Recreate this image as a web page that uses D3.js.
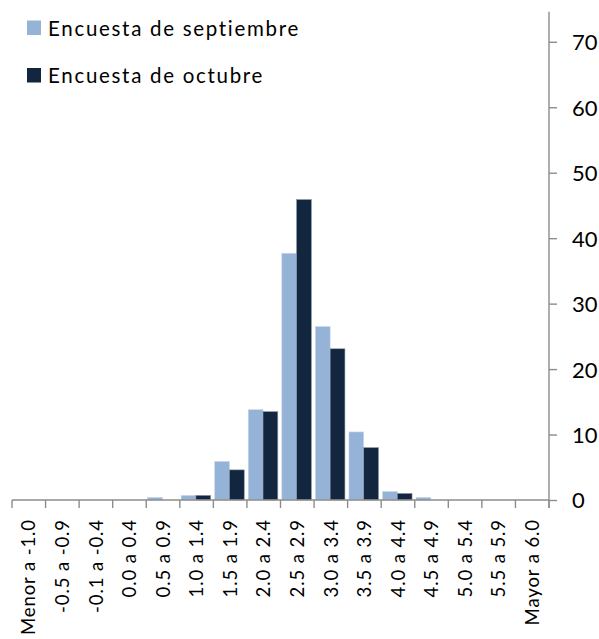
<!DOCTYPE html>
<html>
<head>
<meta charset="utf-8">
<script src="https://cdn.jsdelivr.net/npm/d3@7"></script>
<style>
  html, body { margin: 0; padding: 0; background: #fff; }
  svg { display: block; }
  text { font-family: Lato, "Open Sans", sans-serif; fill: #000; }
</style>
</head>
<body>
<svg id="chart" width="599" height="639"></svg>
<script>
const categories = ["Menor a -1.0", "-0.5 a -0.9", "-0.1 a -0.4", "0.0 a 0.4", "0.5 a 0.9",
  "1.0 a 1.4", "1.5 a 1.9", "2.0 a 2.4", "2.5 a 2.9", "3.0 a 3.4", "3.5 a 3.9",
  "4.0 a 4.4", "4.5 a 4.9", "5.0 a 5.4", "5.5 a 5.9", "Mayor a 6.0"];
const seriesNames = ["Encuesta de septiembre", "Encuesta de octubre"];
const septiembre = [0, 0, 0, 0, 0.4, 0.7, 5.9, 13.8, 37.7, 26.5, 10.4, 1.3, 0.4, 0, 0, 0];
const octubre    = [0, 0, 0, 0, 0,   0.7, 4.6, 13.5, 45.9, 23.1, 8.0,  1.0, 0,   0, 0, 0];
const yTicks = [0, 10, 20, 30, 40, 50, 60, 70];
const yMax = 74.6;

const colors = ["#95B3D7", "#12263F"];
const series = [septiembre, octubre];

const svg = d3.select("#chart");
const pLeft = 12, pRight = 549, pTop = 11.7, pBottom = 500;

const x = d3.scaleBand().domain(categories).range([pLeft, pRight]).padding(0);
const xi = d3.scaleBand().domain([0, 1]).range([1.3, x.bandwidth() - 2.7]).padding(0);
const y = d3.scaleLinear().domain([0, yMax]).range([pBottom, pTop]);

// bars
series.forEach((vals, si) => {
  svg.append("g").selectAll("rect")
    .data(vals.map((v, i) => ({ c: categories[i], v })))
    .join("rect")
    .attr("x", d => x(d.c) + xi(si))
    .attr("y", d => y(d.v))
    .attr("width", xi.bandwidth())
    .attr("height", d => pBottom - y(d.v))
    .attr("fill", colors[si])
    .attr("stroke", si === 0 ? "#c9d9ec" : "#8a94a3")
    .attr("stroke-width", d => d.v > 0 ? 0.6 : 0);
});

// x axis
const gx = svg.append("g").attr("transform", `translate(0,${pBottom})`);
gx.append("line").attr("x1", pLeft).attr("x2", pRight).attr("y1", 0).attr("y2", 0)
  .attr("stroke", "#8c8c8c").attr("stroke-width", 1.4);
const bounds = categories.map(c => x(c)).concat([pRight]);
gx.selectAll("line.tick").data(bounds).join("line").attr("class", "tick")
  .attr("x1", d => d).attr("x2", d => d).attr("y1", 0).attr("y2", 8)
  .attr("stroke", "#8c8c8c").attr("stroke-width", 1.4);
gx.selectAll("text").data(categories).join("text")
  .attr("transform", d => `translate(${x(d) + x.bandwidth() / 2},19) rotate(-90)`)
  .attr("text-anchor", "end")
  .attr("dy", "0.36em")
  .style("font-size", "18.5px")
  .style("letter-spacing", "0.9px")
  .text(d => d);

// y axis (right)
const yAxis = d3.axisRight(y).tickValues(yTicks).tickSize(8).tickPadding(15).tickFormat(d3.format("d"));
const gy = svg.append("g").attr("transform", `translate(${pRight},0)`).call(yAxis);
gy.select(".domain").attr("stroke", "#8c8c8c").attr("stroke-width", 1.4)
  .attr("d", `M0,${pTop}V${pBottom + 8}`);
gy.selectAll(".tick line").attr("stroke", "#8c8c8c").attr("stroke-width", 1.4);
gy.selectAll(".tick text").style("font-size", "22px").style("font-family", "Lato, sans-serif")
  .attr("fill", "#000").attr("dy", "0.36em");

// legend
const lg = svg.append("g");
const legendRows = seriesNames.map((n, i) => ({ n, i }));
lg.selectAll("rect").data(legendRows).join("rect")
  .attr("x", 27).attr("y", d => 20.5 + d.i * 47.5).attr("width", 14).attr("height", 14.5)
  .attr("fill", d => colors[d.i]);
lg.selectAll("text").data(legendRows).join("text")
  .attr("x", 48).attr("y", d => 35.5 + d.i * 47)
  .style("font-size", "20.5px")
  .style("letter-spacing", "1.7px")
  .text(d => d.n);
</script>
</body>
</html>
